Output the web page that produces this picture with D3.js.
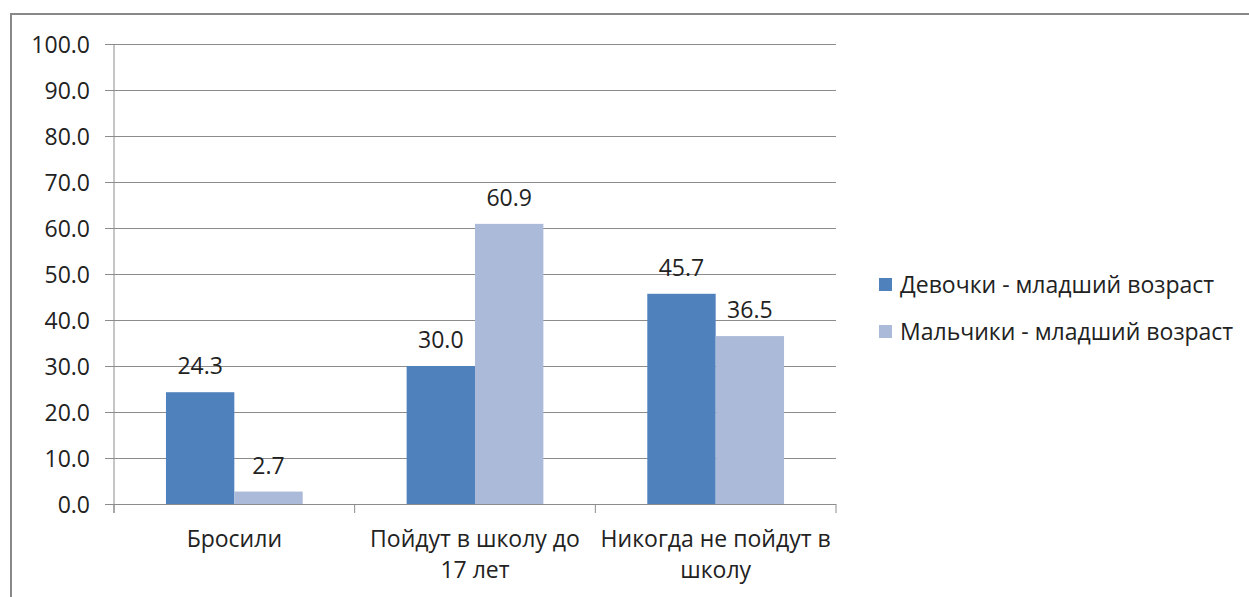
<!DOCTYPE html>
<html>
<head>
<meta charset="utf-8">
<script src="https://cdn.jsdelivr.net/npm/d3@7"></script>
<style>
  body { margin: 0; background: #fff; }
  svg text { font-family: "Open Sans", sans-serif; fill: #222; }
</style>
</head>
<body>
<svg id="chart" width="1249" height="597"></svg>
<script>
// data
const categories = [['Бросили'], ['Пойдут в школу до', '17 лет'], ['Никогда не пойдут в', 'школу']];
const seriesNames = ['Девочки - младший возраст', 'Мальчики - младший возраст'];
const girls = [24.3, 30.0, 45.7];
const boys = [2.7, 60.9, 36.5];
const yTicks = [0, 10, 20, 30, 40, 50, 60, 70, 80, 90, 100];

const colors = ['#4F81BD', '#AABAD8'];
const fontSize = 23;

const svg = d3.select('#chart');
const margin = {top: 44, left: 114, right: 413, bottom: 93};
const width = 1249, height = 597;
const innerW = width - margin.left - margin.right;
const innerH = height - margin.top - margin.bottom;

// chart frame
svg.append('path')
  .attr('d', `M11,${height} L11,14 L${width},14`)
  .attr('fill', 'none')
  .attr('stroke', '#888')
  .attr('stroke-width', 2);

const g = svg.append('g').attr('transform', `translate(${margin.left},${margin.top})`);

const x = d3.scaleBand().domain(d3.range(categories.length)).range([0, innerW]).paddingInner(0).paddingOuter(0);
const inner = d3.scaleBand().domain(d3.range(seriesNames.length)).range([0, x.bandwidth()]).paddingOuter(0.76);
const y = d3.scaleLinear().domain([0, 100]).range([innerH, 0]);

// gridlines + y axis
const yAxis = d3.axisLeft(y).tickValues(yTicks).tickSize(9).tickFormat(d3.format('.1f'));
g.append('g').call(yAxis).call(s => {
  s.select('.domain').remove();
  s.selectAll('line').attr('stroke', '#8c8c8c').attr('x2', innerW);
  s.selectAll('line').attr('x1', -9);
  s.selectAll('text').attr('x', -24).attr('dy', '0.35em')
    .style('font-size', fontSize + 'px').attr('fill', '#222');
});
g.append('line').attr('x1', 0).attr('x2', 0).attr('y1', 0).attr('y2', innerH + 9)
  .attr('stroke', '#8c8c8c');

// category ticks at band edges
const edges = d3.range(categories.length + 1).map(i => i * x.step());
g.selectAll('.ctick').data(edges).join('line')
  .attr('x1', d => d).attr('x2', d => d)
  .attr('y1', innerH).attr('y2', innerH + 9)
  .attr('stroke', '#8c8c8c');

// bars
const series = [girls, boys];
series.forEach((vals, s) => {
  g.selectAll('.bar' + s).data(vals).join('rect')
    .attr('x', (d, i) => x(i) + inner(s))
    .attr('y', d => y(d))
    .attr('width', inner.bandwidth())
    .attr('height', d => innerH - y(d))
    .attr('fill', colors[s]);
  g.selectAll('.lab' + s).data(vals).join('text')
    .attr('x', (d, i) => x(i) + inner(s) + inner.bandwidth() / 2)
    .attr('y', d => y(d) - 18)
    .attr('text-anchor', 'middle')
    .style('font-size', fontSize + 'px')
    .text(d => d.toFixed(1));
});

// category labels
categories.forEach((lines, i) => {
  const t = g.append('text')
    .attr('text-anchor', 'middle')
    .style('font-size', fontSize + 'px');
  lines.forEach((ln, k) => {
    t.append('tspan')
      .attr('x', x(i) + x.bandwidth() / 2)
      .attr('y', innerH + 43 + k * 31)
      .text(ln);
  });
});

// legend
const legend = svg.append('g').attr('transform', 'translate(879,285)');
seriesNames.forEach((name, s) => {
  const row = legend.append('g').attr('transform', `translate(0,${s * 47})`);
  row.append('rect').attr('x', 0).attr('y', -7).attr('width', 13).attr('height', 13).attr('fill', colors[s]);
  row.append('text').attr('x', 21).attr('dy', '0.35em')
    .style('font-size', fontSize + 'px').text(name);
});
</script>
</body>
</html>
